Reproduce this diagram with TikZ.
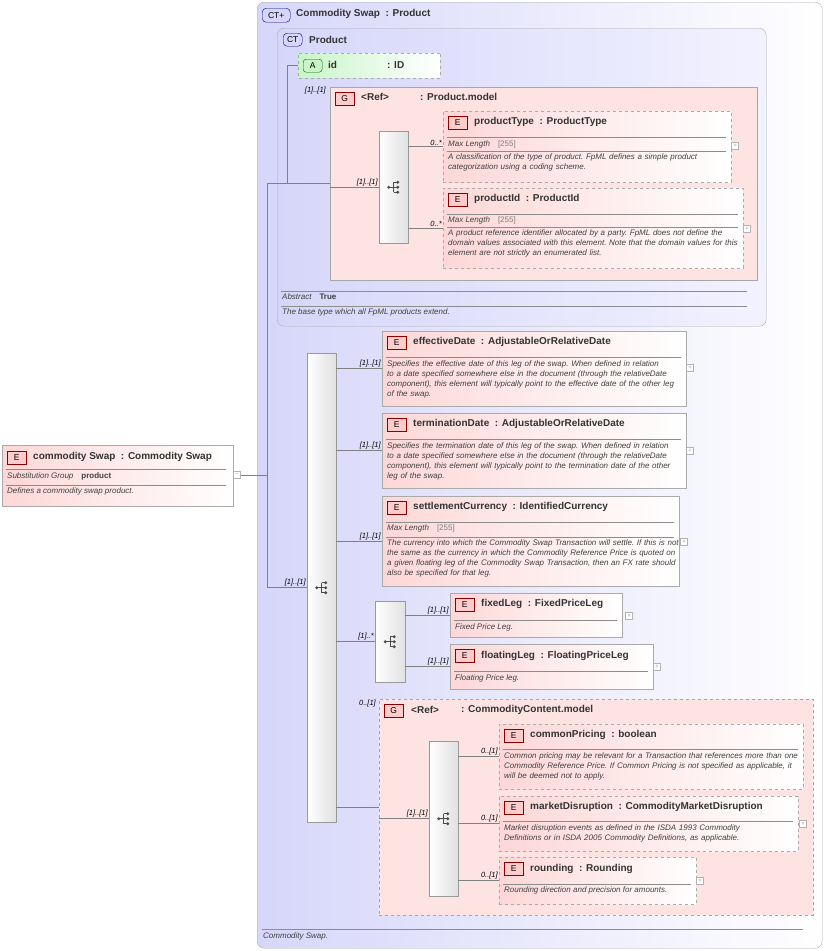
\documentclass[tikz,border=0pt]{standalone}
\usepackage{fontspec}
\setmainfont{Liberation Sans}
\usepackage{xcolor}
\usetikzlibrary{calc,positioning,shapes.misc}

\definecolor{ctblue}{RGB}{214,214,250}
\definecolor{elpink}{RGB}{253,215,215}
\definecolor{attgreen}{RGB}{200,245,200}
\definecolor{frame}{RGB}{170,170,170}
\newcommand{\nohyph}{\hyphenpenalty 10000\exhyphenpenalty 10000\frenchspacing\relax}

\tikzset{
  box/.style={anchor=north west, inner sep=0pt, draw=frame},
  elem/.style={box, left color=elpink, right color=white},
  opt/.style={elem, dashed},
  seq/.style={box, left color=white, right color=black!12, draw=black!40},
  badge/.style={anchor=north west, inner sep=0pt, minimum width=19pt, minimum height=13pt,
    draw=red!55!black, fill=red!20, font=\fontsize{8.5}{9}\selectfont},
  ttl/.style={anchor=west, inner sep=0pt, font=\fontsize{10}{11}\selectfont\bfseries, text=black!80},
  desc/.style={anchor=north west, inner sep=0pt, align=left,
    font=\fontsize{8}{10.2}\selectfont\itshape\nohyph, text=black!75},
  card/.style={anchor=south east, inner sep=1pt, font=\fontsize{7.5}{8}\selectfont\itshape},
  conn/.style={draw=black!50, line width=0.6pt},
  plus/.style={draw=black!30, fill=white, minimum size=7pt, inner sep=0pt, font=\fontsize{6}{6}\selectfont, text=black!40}
}

% sequence compositor icon
\newcommand{\seqicon}[1]{%
  \fill[black!70] ($(#1)+(-5,0)$) circle (1.6);
  \draw[black!70, line width=0.8pt] ($(#1)+(-5,0)$) -- ($(#1)+(0,0)$) ($(#1)+(0,-5)$) -- ($(#1)+(0,5)$)
    ($(#1)+(0,-5)$) -- ($(#1)+(4,-5)$) ($(#1)+(0,0)$) -- ($(#1)+(4,0)$) ($(#1)+(0,5)$) -- ($(#1)+(4,5)$);
  \foreach \d in {-5,0,5} \fill[black!70] ($(#1)+(4,\d)$) circle (1.6);}
\newcommand{\rulel}[3]{\draw[black!45, line width=0.5pt] (#1,#3) -- (#2,#3);}

\begin{document}
\begin{tikzpicture}[x=1pt, y=-1pt]
  \useasboundingbox (0,0) rectangle (827,951);

  % outer complex type
  \node[box, rounded corners=7pt, left color=ctblue, right color=white, minimum width=565pt, minimum height=946pt] (swapCT) at (257,2) {};
  \node[badge, rounded corners=4pt, draw=blue!50!black, fill=ctblue, minimum width=28pt, minimum height=14pt] at (262,8) {CT+};
  \node[ttl] at (296,14) {Commodity Swap\ \ : Product};
  \rulel{262}{803}{929}
  \node[desc] at (263,932) {Commodity Swap.};

  % base type
  \node[box, rounded corners=7pt, left color=ctblue, right color=white!95!blue, minimum width=489pt, minimum height=298pt] (productCT) at (277,28) {};
  \node[badge, rounded corners=4pt, draw=blue!50!black, fill=ctblue] at (283,33) {CT};
  \node[ttl] at (309,40) {Product};
  \rulel{281}{747}{291}
  \rulel{281}{747}{306}
  \node[desc] at (282,293) {Abstract\quad\upshape\bfseries True};
  \node[desc] at (282,308) {The base type which all FpML products extend.};

  % attribute
  \node[box, dashed, left color=attgreen, right color=white, minimum width=142pt, minimum height=25pt,
    chamfered rectangle, chamfered rectangle corners={north west,south west}, chamfered rectangle xsep=8pt] (idAtt) at (298,53) {};
  \node[badge, rounded corners=3pt, draw=green!40!black, fill=attgreen] at (303,59) {A};
  \node[ttl] at (328,65) {id};
  \node[ttl] at (387,65) {: ID};

  % Product.model group
  \node[box, fill=elpink!70, draw=black!35, minimum width=427pt, minimum height=193pt] (productModel) at (330,87) {};
  \node[badge] at (335,92) {G};
  \node[ttl] at (361,97) {<Ref>};
  \node[ttl] at (420,97) {: Product.model};
  \node[seq, minimum width=29pt, minimum height=112pt] (prodSeq) at (379,131) {};
  \seqicon{prodSeq.center}

  \node[opt, minimum width=288pt, minimum height=71pt] (productType) at (443,111) {};
  \node[badge] at (448,116) {E};
  \node[ttl] at (474,122) {productType\ \ : ProductType};
  \rulel{447}{726}{137} \rulel{447}{726}{151}
  \node[desc] at (448,140) {Max Length\quad\upshape\textcolor{black!50}{[255]}};
  \node[desc, text width=280pt] at (448,153) {A classification of the type of product. FpML defines a simple product categorization using a coding scheme.};
  \node[plus] at (735,146) {+};

  \node[opt, minimum width=300pt, minimum height=80pt] (productId) at (443,188) {};
  \node[badge] at (448,193) {E};
  \node[ttl] at (474,199) {productId\ \ : ProductId};
  \rulel{447}{738}{214} \rulel{447}{738}{227}
  \node[desc] at (448,216) {Max Length\quad\upshape\textcolor{black!50}{[255]}};
  \node[desc, text width=294pt] at (448,229) {A product reference identifier allocated by a party. FpML does not define the domain values associated with this element. Note that the domain values for this element are not strictly an enumerated list.};
  \node[plus] at (747,229) {+};

  % main element
  \node[elem, minimum width=231pt, minimum height=61pt] (commoditySwap) at (2,445) {};
  \node[badge] at (7,451) {E};
  \node[ttl] at (33,457) {commodity Swap\ \ : Commodity Swap};
  \rulel{6}{226}{469} \rulel{6}{226}{485}
  \node[desc] at (7,472) {Substitution Group\quad\upshape\bfseries product};
  \node[desc] at (7,487) {Defines a commodity swap product.};
  \node[plus] (swapMinus) at (237,475) {--};

  % main sequence and its children
  \node[seq, minimum width=29pt, minimum height=469pt] (mainSeq) at (307,353) {};
  \seqicon{mainSeq.center}

  \node[elem, minimum width=304pt, minimum height=75pt] (effectiveDate) at (382,331) {};
  \node[badge] at (387,336) {E};
  \node[ttl] at (413,342) {effectiveDate\ \ : AdjustableOrRelativeDate};
  \rulel{386}{681}{357}
  \node[desc, text width=298pt] at (387,360) {Specifies the effective date of this leg of the swap. When defined in relation to a date specified somewhere else in the document (through the relativeDate component), this element will typically point to the effective date of the other leg of the swap.};
  \node[plus] at (690,368) {+};

  \node[elem, minimum width=304pt, minimum height=75pt] (terminationDate) at (382,413) {};
  \node[badge] at (387,418) {E};
  \node[ttl] at (413,424) {terminationDate\ \ : AdjustableOrRelativeDate};
  \rulel{386}{681}{439}
  \node[desc, text width=298pt] at (387,442) {Specifies the termination date of this leg of the swap. When defined in relation to a date specified somewhere else in the document (through the relativeDate component), this element will typically point to the termination date of the other leg of the swap.};
  \node[plus] at (690,451) {+};

  \node[elem, minimum width=297pt, minimum height=90pt] (settlementCurrency) at (382,496) {};
  \node[badge] at (387,501) {E};
  \node[ttl] at (413,507) {settlementCurrency\ \ : IdentifiedCurrency};
  \rulel{386}{674}{522} \rulel{386}{674}{537}
  \node[desc] at (387,524) {Max Length\quad\upshape\textcolor{black!50}{[255]}};
  \node[desc, text width=292pt] at (387,539) {The currency into which the Commodity Swap Transaction will settle. If this is not the same as the currency in which the Commodity Reference Price is quoted on a given floating leg of the Commodity Swap Transaction, then an FX rate should also be specified for that leg.};
  \node[plus] at (684,542) {+};

  % choice of legs
  \node[seq, minimum width=30pt, minimum height=81pt] (legChoice) at (375,601) {};
  \seqicon{legChoice.center}

  \node[elem, minimum width=172pt, minimum height=44pt] (fixedLeg) at (450,593) {};
  \node[badge] at (455,598) {E};
  \node[ttl] at (481,604) {fixedLeg\ \ : FixedPriceLeg};
  \rulel{454}{617}{620}
  \node[desc] at (455,623) {Fixed Price Leg.};
  \node[plus] at (629,616) {+};

  \node[elem, minimum width=203pt, minimum height=45pt] (floatingLeg) at (450,644) {};
  \node[badge] at (455,649) {E};
  \node[ttl] at (481,656) {floatingLeg\ \ : FloatingPriceLeg};
  \rulel{454}{648}{671}
  \node[desc] at (455,674) {Floating Price leg.};
  \node[plus] at (657,667) {+};

  % CommodityContent.model group
  \node[box, dashed, fill=elpink!70, draw=black!35, minimum width=434pt, minimum height=216pt] (contentModel) at (379,699) {};
  \node[badge] at (384,704) {G};
  \node[ttl] at (411,710) {<Ref>};
  \node[ttl] at (461,710) {: CommodityContent.model};
  \node[seq, minimum width=29pt, minimum height=155pt] (contentSeq) at (429,741) {};
  \seqicon{contentSeq.center}

  \node[opt, minimum width=304pt, minimum height=65pt] (commonPricing) at (499,724) {};
  \node[badge] at (504,729) {E};
  \node[ttl] at (530,735) {commonPricing\ \ : boolean};
  \rulel{503}{798}{749}
  \node[desc, text width=298pt] at (504,752) {Common pricing may be relevant for a Transaction that references more than one Commodity Reference Price. If Common Pricing is not specified as applicable, it will be deemed not to apply.};

  \node[opt, minimum width=299pt, minimum height=55pt] (marketDisruption) at (499,796) {};
  \node[badge] at (504,801) {E};
  \node[ttl] at (530,807) {marketDisruption\ \ : CommodityMarketDisruption};
  \rulel{503}{793}{821}
  \node[desc, text width=272pt] at (504,824) {Market disruption events as defined in the ISDA 1993 Commodity Definitions or in ISDA 2005 Commodity Definitions, as applicable.};
  \node[plus] at (803,824) {+};

  \node[opt, minimum width=197pt, minimum height=47pt] (rounding) at (499,857) {};
  \node[badge] at (504,862) {E};
  \node[ttl] at (530,869) {rounding\ \ : Rounding};
  \rulel{503}{691}{884}
  \node[desc] at (504,886) {Rounding direction and precision for amounts.};
  \node[plus] at (700,881) {+};

  % connectors
  \coordinate (trunk) at (267,475);
  \coordinate (baseFork) at (287,183);
  \draw[conn] (swapMinus.east) -- (trunk);
  \draw[conn] (trunk |- baseFork) -- (trunk |- mainSeq.west);
  \draw[conn] (trunk |- baseFork) -- (baseFork);
  \draw[conn] (baseFork |- idAtt.west) -- (baseFork) -- (productModel.west |- baseFork);
  \draw[conn] (baseFork |- idAtt.west) -- (idAtt.west);
  \draw[conn] (trunk |- mainSeq.west) -- node[card, pos=1] {[1]..[1]} (mainSeq.west);
  \draw[conn] (productModel.west |- prodSeq.west) -- node[card, pos=1] {[1]..[1]} (prodSeq.west);
  \node[card] at (327,95) {[1]..[1]};
  \foreach \c in {productType, productId}
    \draw[conn] (prodSeq.east |- \c.west) -- node[card, pos=1] {0..*} (\c.west);
  \foreach \c in {effectiveDate, terminationDate, settlementCurrency}
    \draw[conn] (mainSeq.east |- \c.west) -- node[card, pos=1] {[1]..[1]} (\c.west);
  \draw[conn] (mainSeq.east |- legChoice.west) -- node[card, pos=1] {[1]..*} (legChoice.west);
  \foreach \c in {fixedLeg, floatingLeg}
    \draw[conn] (legChoice.east |- \c.west) -- node[card, pos=1] {[1]..[1]} (\c.west);
  \draw[conn] (mainSeq.east |- contentModel.west) -- (contentModel.west);
  \node[card] at (377,708) {0..[1]};
  \draw[conn] (contentModel.west |- contentSeq.west) -- node[card, pos=1] {[1]..[1]} (contentSeq.west);
  \foreach \c in {commonPricing, marketDisruption, rounding}
    \draw[conn] (contentSeq.east |- \c.west) -- node[card, pos=1] {0..[1]} (\c.west);
\end{tikzpicture}
\end{document}
